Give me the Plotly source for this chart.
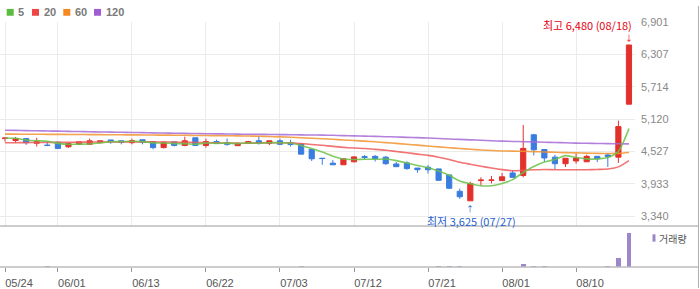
import plotly.graph_objects as go

# ---------------- data ----------------
dates = ["05/24", "05/25", "05/26", "05/29", "05/30", "06/01", "06/02", "06/05", "06/07", "06/08",
         "06/09", "06/12", "06/13", "06/14", "06/15", "06/16", "06/19", "06/20", "06/21", "06/22",
         "06/23", "06/26", "06/27", "06/28", "06/29", "06/30", "07/03", "07/04", "07/05", "07/06",
         "07/07", "07/10", "07/11", "07/12", "07/13", "07/14", "07/17", "07/18", "07/19", "07/20",
         "07/21", "07/24", "07/25", "07/26", "07/27", "07/28", "07/31", "08/01", "08/02", "08/03",
         "08/04", "08/07", "08/08", "08/09", "08/10", "08/11", "08/14", "08/16", "08/17", "08/18"]

opens = [4770, 4730, 4765, 4680, 4645, 4700, 4615, 4660, 4660, 4690,
         4740, 4725, 4690, 4745, 4710, 4600, 4705, 4640, 4780, 4640,
         4710, 4690, 4635, 4675, 4725, 4675, 4725, 4690, 4665, 4565,
         4405, 4315, 4285, 4340, 4435, 4440, 4425, 4300, 4320, 4225,
         4240, 4210, 4100, 3800, 3625, 3995, 4000, 3995, 4135, 4090,
         4835, 4565, 4425, 4305, 4355, 4340, 4440, 4465, 4425, 5395]
highs = [4775, 4795, 4765, 4780, 4720, 4700, 4695, 4705, 4765, 4725,
         4740, 4725, 4765, 4745, 4710, 4715, 4705, 4800, 4780, 4765,
         4745, 4765, 4690, 4725, 4800, 4725, 4765, 4745, 4665, 4565,
         4405, 4370, 4395, 4440, 4465, 4465, 4445, 4335, 4350, 4225,
         4280, 4210, 4100, 3850, 3975, 4055, 4080, 4135, 4185, 5015,
         4850, 4565, 4470, 4405, 4490, 4470, 4440, 4490, 5095, 6480]
lows = [4710, 4690, 4650, 4620, 4625, 4585, 4595, 4645, 4660, 4680,
        4670, 4660, 4660, 4660, 4570, 4585, 4620, 4625, 4640, 4600,
        4675, 4635, 4635, 4675, 4655, 4645, 4645, 4620, 4480, 4355,
        4285, 4285, 4285, 4330, 4385, 4345, 4285, 4250, 4195, 4140,
        4125, 4000, 3840, 3660, 3625, 3905, 3945, 3995, 4055, 4055,
        4455, 4340, 4205, 4245, 4305, 4340, 4335, 4245, 4320, 5395]
closes = [4775, 4765, 4690, 4710, 4640, 4585, 4675, 4705, 4725, 4725,
          4705, 4695, 4730, 4695, 4600, 4700, 4640, 4725, 4640, 4710,
          4675, 4660, 4680, 4710, 4675, 4725, 4660, 4655, 4480, 4395,
          4400, 4285, 4395, 4430, 4420, 4400, 4305, 4250, 4215, 4195,
          4195, 4000, 3855, 3700, 3940, 4005, 4005, 4065, 4055, 4585,
          4560, 4410, 4305, 4405, 4410, 4440, 4395, 4435, 4985, 6480]
volumes = [9000, 7000, 10000, 8000, 250000, 9000, 7000, 6000, 8000, 6000,
           7000, 6000, 8000, 7000, 9000, 8000, 6000, 8000, 7000, 6000,
           6000, 7000, 6000, 6000, 8000, 7000, 8000, 9000, 230000, 10000,
           9000, 8000, 7000, 8000, 7000, 6000, 8000, 9000, 10000, 8000,
           10000, 290000, 300000, 300000, 12000, 10000, 8000, 9000, 10000, 980000,
           260000, 270000, 10000, 9000, 8000, 9000, 8000, 280000, 2650000, 10500000]

ma5 = [4775, 4770, 4740, 4725, 4716, 4678, 4660, 4663, 4666, 4683,
       4707, 4711, 4716, 4710, 4685, 4684, 4673, 4672, 4661, 4683,
       4678, 4682, 4673, 4687, 4680, 4690, 4690, 4685, 4639, 4583,
       4518, 4443, 4391, 4381, 4386, 4386, 4390, 4361, 4318, 4273,
       4232, 4171, 4092, 3989, 3938, 3900, 3901, 3943, 4014, 4143,
       4254, 4335, 4383, 4453, 4418, 4394, 4391, 4417, 4533, 4947]
ma20 = [4690, 4690, 4692, 4694, 4695, 4695, 4697, 4700, 4702, 4703,
        4704, 4705, 4705, 4705, 4704, 4703, 4700, 4697, 4694, 4692,
        4687, 4682, 4681, 4681, 4683, 4690, 4689, 4687, 4674, 4658,
        4643, 4622, 4605, 4592, 4583, 4568, 4551, 4528, 4506, 4481,
        4457, 4424, 4382, 4332, 4295, 4259, 4226, 4197, 4176, 4185,
        4193, 4199, 4195, 4194, 4193, 4195, 4200, 4209, 4247, 4362]
ma60 = [4847, 4846, 4845, 4844, 4843, 4842, 4841, 4840, 4838, 4837,
        4836, 4835, 4833, 4832, 4830, 4829, 4827, 4825, 4823, 4821,
        4819, 4817, 4815, 4812, 4809, 4803, 4797, 4790, 4781, 4772,
        4763, 4752, 4740, 4729, 4718, 4706, 4692, 4677, 4661, 4645,
        4629, 4613, 4598, 4583, 4569, 4557, 4547, 4539, 4535, 4532,
        4526, 4520, 4514, 4508, 4503, 4499, 4495, 4492, 4494, 4511]
ma120 = [4918, 4915, 4911, 4908, 4904, 4901, 4898, 4894, 4891, 4887,
         4884, 4881, 4877, 4874, 4870, 4867, 4864, 4860, 4857, 4855,
         4852, 4850, 4847, 4845, 4843, 4840, 4838, 4836, 4833, 4831,
         4829, 4825, 4820, 4815, 4810, 4805, 4800, 4795, 4788, 4782,
         4775, 4767, 4758, 4750, 4742, 4734, 4726, 4718, 4713, 4708,
         4704, 4699, 4693, 4688, 4682, 4679, 4676, 4673, 4670, 4668]
ma_periods = [5, 20, 60, 120]

date_ticks = ["05/24", "06/01", "06/13", "06/22", "07/03", "07/12", "07/21", "08/01", "08/10"]
price_ticks = [6901, 6307.5, 5714, 5120.5, 4527, 3933.5, 3340]
price_tick_labels = ["6,901", "6,307", "5,714", "5,120", "4,527", "3,933", "3,340"]
volume_label = "거래량"

# ---------------- style ----------------
W, H = 700, 289
RED = "#e2312c"
BLUE = "#3a7de0"
VOL = "#9b86c8"
VOL_BAR = "rgba(155,134,200,0.99)"
MA_COLORS = ["#6cc24a", "#ef5b5b", "#f39330", "#a66bd6"]
LEG_COLORS = ["#5bbd3f", "#ee4646", "#f5891f", "#a05cd2"]
GRID = "#ebebeb"
FONT = "Liberation Sans, Noto Sans CJK KR, sans-serif"
KFONT = "Noto Sans CJK KR, sans-serif"


def py(y):
    return 1 - y / H


def px(x):
    return x / W


X_RIGHT = 635
fig = go.Figure()

for vals, col in zip([ma120, ma60, ma20, ma5], MA_COLORS[::-1]):
    fig.add_trace(go.Scatter(x=dates, y=vals, mode="lines",
                             line=dict(color=col, width=1.6, shape="spline", smoothing=0.7),
                             opacity=0.85, xaxis="x", yaxis="y", hoverinfo="skip"))

fig.add_trace(go.Candlestick(
    x=dates, open=opens, high=highs, low=lows, close=closes,
    increasing=dict(line=dict(color=RED, width=1), fillcolor=RED),
    decreasing=dict(line=dict(color=BLUE, width=1), fillcolor=BLUE),
    whiskerwidth=0, xaxis="x", yaxis="y"))

fig.add_trace(go.Bar(x=dates, y=volumes, marker=dict(color=VOL_BAR, line=dict(width=0)),
                     width=0.45, xaxis="x2", yaxis="y2"))

shapes = [
    dict(type="line", xref="paper", yref="paper", x0=0, x1=px(698), y0=py(225.5), y1=py(225.5),
         line=dict(color="#9a9a9a", width=1)),
    dict(type="line", xref="paper", yref="paper", x0=0, x1=px(698), y0=py(267.5), y1=py(267.5),
         line=dict(color="#9a9a9a", width=1)),
    dict(type="line", xref="paper", yref="paper", x0=px(698.5), x1=px(698.5), y0=0, y1=1,
         line=dict(color="#b0b0b0", width=1)),
    dict(type="rect", xref="paper", yref="paper", x0=px(652.5), x1=px(655.5), y0=py(241.5), y1=py(234),
         fillcolor=VOL, line=dict(width=0)),
]
annotations = []

sq_left = [6.7, 32, 63.3, 94]
for p, col, x0 in zip(ma_periods, LEG_COLORS, sq_left):
    shapes.append(dict(type="rect", xref="paper", yref="paper", x0=px(x0), x1=px(x0 + 7),
                       y0=py(10), y1=py(3), fillcolor=col, line=dict(width=0)))
    annotations.append(dict(text="<b>%d</b>" % p, xref="paper", yref="paper", x=px(x0 + 9.6), y=py(6.6),
                            xanchor="left", yanchor="middle", showarrow=False,
                            font=dict(family=FONT, size=11, color="#7a7a7a")))

annotations.append(dict(text=volume_label, xref="paper", yref="paper", x=px(656.5), y=py(238),
                        xanchor="left", yanchor="middle", showarrow=False,
                        font=dict(family=KFONT, size=10, color="#555555")))

imax = highs.index(max(highs))
imin = lows.index(min(lows))
annotations.append(dict(text="최고 {:,} ({})".format(highs[imax], dates[imax]), x=dates[imax], y=highs[imax],
                        xref="x", yref="y", xanchor="right", yanchor="middle", xshift=5, yshift=20,
                        showarrow=False, font=dict(family=KFONT, size=11, color="#e60012")))
annotations.append(dict(text="↓", x=dates[imax], y=highs[imax], xref="x", yref="y",
                        xanchor="center", yanchor="bottom", yshift=0, showarrow=False,
                        font=dict(family=KFONT, size=8, color="#e60012")))
annotations.append(dict(text="최저 {:,} ({})".format(lows[imin], dates[imin]), x=dates[imin], y=lows[imin],
                        xref="x", yref="y", xanchor="center", yanchor="middle", xshift=1.5, yshift=-20.5,
                        showarrow=False, font=dict(family=KFONT, size=11, color="#1f5fd0")))
annotations.append(dict(text="↑", x=dates[imin], y=lows[imin], xref="x", yref="y",
                        xanchor="center", yanchor="top", yshift=0, showarrow=False,
                        font=dict(family=KFONT, size=8, color="#1f5fd0")))

xr = [-0.473, 59.57]
fig.update_layout(
    width=W, height=H, autosize=False,
    margin=dict(l=0, r=0, t=0, b=0, pad=0),
    paper_bgcolor="white", plot_bgcolor="white",
    showlegend=False,
    boxgap=0.3, boxgroupgap=0.3,
    bargap=0,
    xaxis=dict(domain=[0, px(X_RIGHT)], type="category", range=xr, anchor="y",
               tickvals=date_ticks, showticklabels=False, ticks="",
               showgrid=True, gridcolor=GRID, gridwidth=1, zeroline=False, showline=False,
               rangeslider=dict(visible=False)),
    yaxis=dict(domain=[py(225), py(16.4)], range=[3172, 6901], side="right", anchor="x",
               tickvals=price_ticks, ticktext=price_tick_labels, ticks="", ticklabelstandoff=5,
               showgrid=True, gridcolor=GRID, gridwidth=1, zeroline=False, showline=False,
               tickfont=dict(family=FONT, size=11, color="#888888")),
    xaxis2=dict(domain=[0, px(X_RIGHT)], type="category", range=xr, anchor="y2", matches="x",
                tickvals=date_ticks, ticktext=date_ticks, ticks="outside", ticklen=4,
                tickcolor="#999999", ticklabelshift=14, ticklabelstandoff=2,
                showgrid=False, zeroline=False, showline=False,
                tickfont=dict(family=FONT, size=11, color="#555555")),
    yaxis2=dict(domain=[py(267), py(226)], range=[0, 12200000], anchor="x2",
                showticklabels=False, showgrid=False, zeroline=False, showline=False, ticks=""),
    shapes=shapes, annotations=annotations,
)

fig.write_html("out.html")
